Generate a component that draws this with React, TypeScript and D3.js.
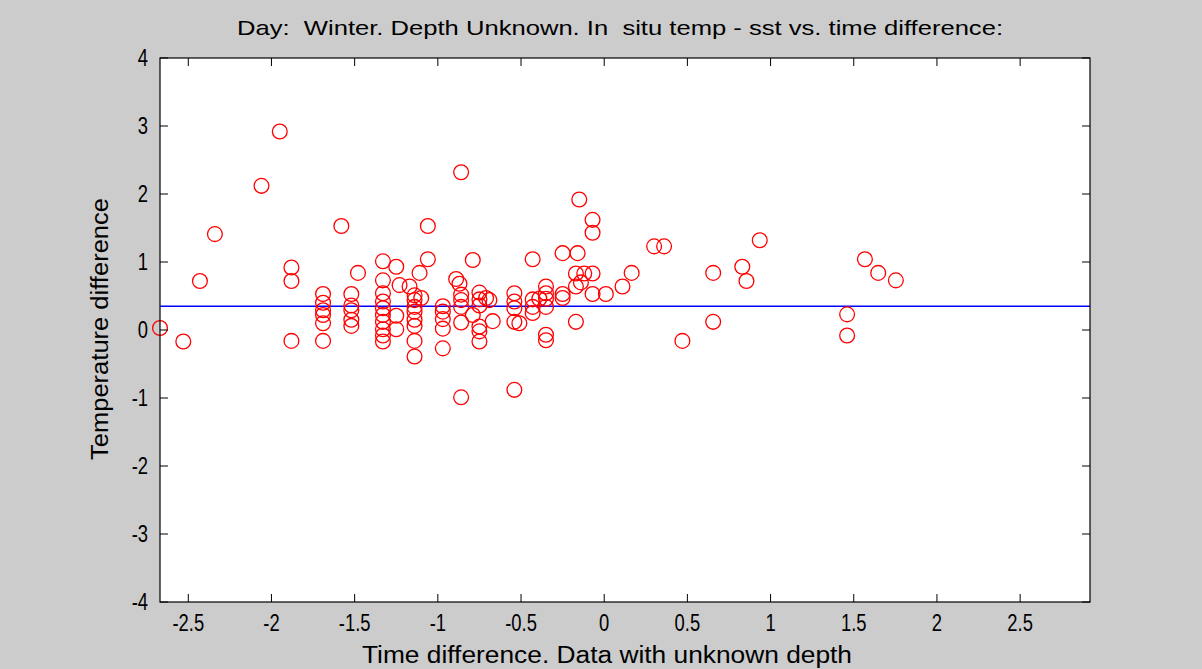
import React from "react";
import * as d3 from "d3";

// Time difference (x) and temperature difference (y)
const timeDiff = [
  -2.67, -2.53, -2.43, -2.34, -2.06, -1.95, -1.88, -1.88, -1.88,
  -1.69, -1.69, -1.69, -1.69, -1.69, -1.69, -1.58,
  -1.52, -1.52, -1.52, -1.52, -1.52, -1.48,
  -1.33, -1.33, -1.33, -1.33, -1.33, -1.33, -1.33, -1.33, -1.33, -1.33,
  -1.25, -1.23, -1.25, -1.25, -1.17,
  -1.14, -1.14, -1.14, -1.14, -1.14, -1.14, -1.14, -1.14, -1.10, -1.11,
  -1.06, -1.06,
  -0.97, -0.97, -0.97, -0.97, -0.97,
  -0.89, -0.87, -0.86, -0.86, -0.86, -0.86, -0.86, -0.86,
  -0.79, -0.79, -0.75, -0.75, -0.75, -0.75, -0.75, -0.75, -0.71, -0.69, -0.67,
  -0.54, -0.54, -0.54, -0.54, -0.54, -0.51,
  -0.43, -0.43, -0.43, -0.43, -0.39,
  -0.35, -0.35, -0.35, -0.35, -0.35, -0.35,
  -0.25, -0.25, -0.25, -0.16, -0.15, -0.17, -0.12, -0.17, -0.14, -0.17,
  -0.07, -0.07, -0.07, -0.07, 0.01, 0.11, 0.165, 0.3, 0.36, 0.47,
  0.655, 0.655, 0.83, 0.855, 0.935, 1.46, 1.46, 1.567, 1.647, 1.753,
];
const tempDiff = [
  0.03, -0.17, 0.72, 1.41, 2.12, 2.92, 0.92, 0.72, -0.16,
  0.53, 0.4, 0.29, 0.22, 0.1, -0.16, 1.53,
  0.53, 0.36, 0.29, 0.15, 0.06, 0.84,
  1.01, 0.73, 0.54, 0.42, 0.32, 0.22, 0.12, 0.01, -0.08, -0.17,
  0.93, 0.66, 0.21, 0.01, 0.64,
  0.51, 0.44, 0.34, 0.27, 0.15, 0.06, -0.16, -0.39, 0.47, 0.84,
  1.53, 1.04,
  0.35, 0.27, 0.16, 0.02, -0.27,
  0.75, 0.68, 2.32, 0.52, 0.44, 0.34, 0.11, -0.99,
  1.03, 0.22, 0.55, 0.45, 0.36, 0.05, -0.02, -0.17, 0.47, 0.44, 0.13,
  0.54, 0.42, 0.32, 0.12, -0.88, 0.1,
  1.04, 0.45, 0.34, 0.25, 0.46,
  0.64, 0.54, 0.46, 0.34, -0.07, -0.15,
  1.13, 0.53, 0.47, 1.13, 1.92, 0.83, 0.83, 0.64, 0.7, 0.12,
  1.62, 1.43, 0.83, 0.53, 0.53, 0.64, 0.84, 1.23, 1.23, -0.16,
  0.84, 0.12, 0.93, 0.72, 1.32, 0.23, -0.08, 1.04, 0.84, 0.73,
];
const meanDiff = 0.35;
const xTicks = [-2.5, -2, -1.5, -1, -0.5, 0, 0.5, 1, 1.5, 2, 2.5];
const yTicks = [-4, -3, -2, -1, 0, 1, 2, 3, 4];
const xDomain: [number, number] = [-2.67, 2.92];
const yDomain: [number, number] = [-4, 4];

const titleText = "Day:  Winter. Depth Unknown. In  situ temp - sst vs. time difference:";
const xLabelText = "Time difference. Data with unknown depth";
const yLabelText = "Temperature difference";

export default function App() {
  const W = 1202, H = 669;
  const L = 160, R = 1090, T = 58, B = 602;
  const x = d3.scaleLinear().domain(xDomain).range([L, R]);
  const y = d3.scaleLinear().domain(yDomain).range([B, T]);
  const font = "'Liberation Sans', Arial, sans-serif";
  const tick = 8;
  const fmt = (v: number) => String(v);
  const sx = 0.8;
  return (
    <svg width={W} height={H} style={{ position: "fixed", left: 0, top: 0, display: "block" }}
      fontFamily={font}>
      <rect x={0} y={0} width={W} height={H} fill="#cccccc" />
      <rect x={L} y={T} width={R - L} height={B - T} fill="#ffffff" />
      {/* title */}
      <text x={620} y={35} fontSize={21} textAnchor="middle" fill="#000"
        textLength={766} lengthAdjust="spacingAndGlyphs" style={{ whiteSpace: "pre" }}>
        {titleText}
      </text>
      {/* mean line */}
      <line x1={L} x2={R} y1={y(meanDiff)} y2={y(meanDiff)} stroke="#0000ff" strokeWidth={1.6} />
      {/* points */}
      <g fill="none" stroke="#ff0000" strokeWidth={1.3}>
        {timeDiff.map((t, i) => (
          <circle key={i} cx={x(t)} cy={y(tempDiff[i])} r={7.4} />
        ))}
      </g>
      {/* box */}
      <rect x={L} y={T} width={R - L} height={B - T} fill="none" stroke="#000" strokeWidth={1.2} />
      {/* ticks */}
      <g stroke="#000" strokeWidth={1}>
        {xTicks.map((v) => (
          <g key={"x" + v}>
            <line x1={x(v)} x2={x(v)} y1={B} y2={B - tick} />
            <line x1={x(v)} x2={x(v)} y1={T} y2={T + tick} />
          </g>
        ))}
        {yTicks.map((v) => (
          <g key={"y" + v}>
            <line x1={L} x2={L + tick} y1={y(v)} y2={y(v)} />
            <line x1={R} x2={R - tick} y1={y(v)} y2={y(v)} />
          </g>
        ))}
      </g>
      <g fontSize={23} fill="#000">
        {xTicks.map((v) => (
          <g key={"xl" + v} transform={`translate(${x(v)},631) scale(${sx},1)`}>
            <text x={0} y={0} textAnchor="middle">{fmt(v)}</text>
          </g>
        ))}
        {yTicks.map((v) => (
          <g key={"yl" + v} transform={`translate(148,${y(v)}) scale(${sx},1)`}>
            <text x={0} y={0} dy="0.36em" textAnchor="end">{fmt(v)}</text>
          </g>
        ))}
      </g>
      <text x={607} y={663} fontSize={23} textAnchor="middle" fill="#000"
        textLength={490} lengthAdjust="spacingAndGlyphs">{xLabelText}</text>
      <text transform={`translate(108,${329}) rotate(-90)`} fontSize={23} textAnchor="middle" fill="#000"
        textLength={262} lengthAdjust="spacingAndGlyphs">{yLabelText}</text>
    </svg>
  );
}
